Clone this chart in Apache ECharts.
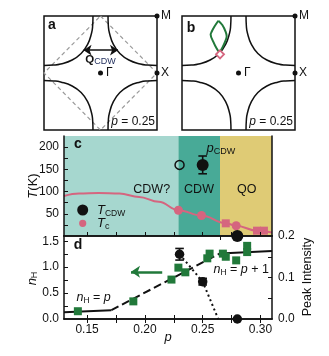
<!DOCTYPE html>
<html>
<head>
<meta charset="utf-8">
<script src="https://cdn.jsdelivr.net/npm/echarts@6/dist/echarts.min.js"></script>
<style>
html,body{margin:0;padding:0;background:#fff;}
#chart{width:329px;height:356px;}
</style>
</head>
<body>
<div id="chart"></div>
<script>
// ---------- Fermi-surface sketches (momentum in units of pi) ----------
// one quarter of the Fermi surface, offsets measured from a zone corner (M)
const fsArc = [[0.867,0],[0.861,0.17],[0.843,0.294],[0.772,0.498],[0.657,0.657],[0.498,0.772],[0.294,0.843],[0.17,0.861],[0,0.867]];
const zoneCorners = [[-1,1],[1,1],[1,-1],[-1,-1]];
const afmZone = [[0,1],[1,0],[0,-1],[-1,0],[0,1]];
const qCdw = [[-0.30,0.40],[0.31,0.40]];
const symPoints = [[0,0],[1,0],[1,1]];            // Gamma, X, M
const pocketLeft = [[-0.357,0.917],[-0.428,0.811],[-0.475,0.723],[-0.493,0.676],[-0.445,0.546],[-0.386,0.428],[-0.339,0.357]];
const pocketRight = [[-0.357,0.917],[-0.286,0.841],[-0.227,0.723],[-0.209,0.646],[-0.239,0.546],[-0.286,0.445],[-0.339,0.357]];
const hotSpot = [[-0.327,0.327]];

// ---------- phase diagram (panel c) ----------
const pRange = [0.13, 0.31];
const pBands = [0.13, 0.229, 0.265, 0.31];
const bandNames = ['CDW?', 'CDW', 'QO'];
const pCdw = 0.265;
const tcCurve = [[0.13,90],[0.143,95.5],[0.16,97],[0.178,95.5],[0.195,88],[0.212,77],[0.229,58],[0.249,46],[0.27,28.5],[0.279,23],[0.297,12],[0.31,8]];
const tcCircles = [[0.229,58],[0.249,46],[0.279,23]];
const tcSquares = [[0.27,28.5],[0.297,12],[0.303,12]];
const tCdwOpen = [[0.23,160]];
const tCdwFilled = [[0.25,160,20]];   // p, T, error
const tCdwNone = [[0.28,0]];
const tTicks = [25,50,75,100,125,150,175,200];
const tLabels = [50,100,150,200];

// ---------- Hall number and CDW peak intensity (panel d) ----------
const pTicks = [0.15,0.175,0.2,0.225,0.25,0.275,0.3];
const pLabels = [0.15,0.2,0.25,0.3];
const nH = [[0.142,0.15],[0.19,0.34],[0.223,0.76],[0.229,0.99],[0.235,0.90],[0.254,1.17],[0.256,1.26],[0.2675,1.26],[0.27,1.20],[0.279,1.13],[0.2885,1.41],[0.2885,1.29]];
const nhLow = [[0.13,0.13],[0.171,0.171]];
const nhCross = [[0.171,0.171],[0.265,1.265]];
const nhHigh = [[0.265,1.265],[0.31,1.31]];
const nhArrow = [[0.188,0.91],[0.215,0.91]];
const nhTicks = [0.25,0.5,0.75,1,1.25,1.5];
const nhLabels = [0,0.5,1,1.5];
const peak = [[0.23,0.156,0.014],[0.25,0.09,0.008],[0.28,0,0]];  // p, intensity, error
const peakTrend = [[0.23,0.156],[0.25,0.09],[0.2635,0]];
const peakTicks = [0.05,0.1,0.15];
const peakLabels = [0,0.1,0.2];

// ---------- styling ----------
const INK = '#111';
const FAM = '"Liberation Sans", Arial, Helvetica, sans-serif';
const PINK = '#d5657f';
const GREEN = '#21793a';
const BAND_COLORS = ['#a6d7cf', '#48aa97', '#dfcb75'];
const font = (size, style) => (style ? style + ' ' : '') + size + 'px ' + FAM;

const measure = document.createElement('canvas').getContext('2d');
function widthOf(str, f) { measure.font = f; return measure.measureText(str).width; }

// text made of runs (italic symbols, subscripts) laid out left to right
function runs(x, y, parts, align, rotation) {
  const ws = parts.map(p => widthOf(p.t, p.font));
  const total = ws.reduce((a, b) => a + b, 0);
  let cx = align === 'center' ? -total / 2 : align === 'right' ? -total : 0;
  const children = parts.map((p, i) => {
    const el = { type: 'text', x: cx, y: p.dy || 0, z: 100,
      style: { text: p.t, font: p.font, fill: p.fill || INK, align: 'left', verticalAlign: 'middle' } };
    cx += ws[i];
    return el;
  });
  return { type: 'group', x: x, y: y, rotation: rotation || 0, children: children, silent: true, z: 100 };
}

function arcsFor(gi) {
  return zoneCorners.map(c => ({
    type: 'line', xAxisIndex: gi, yAxisIndex: gi, smooth: 0.5, showSymbol: false, clip: false,
    lineStyle: { color: INK, width: 1.5 }, silent: true,
    data: fsArc.map(d => [c[0] - Math.sign(c[0]) * d[0], c[1] - Math.sign(c[1]) * d[1]])
  }));
}

function errorBars(params, api) {
  const x = api.value(0), y = api.value(1), e = api.value(2);
  if (!e) return null;
  const top = api.coord([x, y + e]), bot = api.coord([x, y - e]);
  const hw = 4.3, st = { stroke: INK, lineWidth: 1.6 };
  return { type: 'group', children: [
    { type: 'line', shape: { x1: top[0], y1: top[1], x2: bot[0], y2: bot[1] }, style: st },
    { type: 'line', shape: { x1: top[0] - hw, y1: top[1], x2: top[0] + hw, y2: top[1] }, style: st },
    { type: 'line', shape: { x1: bot[0] - hw, y1: bot[1], x2: bot[0] + hw, y2: bot[1] }, style: st }
  ] };
}

const frame = { show: true, lineStyle: { color: INK, width: 1.5 } };
const noSplit = { show: false };
const tickIn = vals => ({ show: true, inside: true, length: 4, lineStyle: { color: INK, width: 1 }, customValues: vals });
const lbl = (vals, digits, margin) => ({ show: true, customValues: vals, margin: margin, color: INK, fontFamily: FAM, fontSize: 12,
  formatter: v => Number(v).toFixed(digits) });
const hidden = { show: false };
const solid = c => ({ color: c, opacity: 1 });

const pAxis = (gi, pos, ticks, labels) => ({
  gridIndex: gi, type: 'value', min: pRange[0], max: pRange[1], position: pos, z: 5,
  axisLine: frame, axisTick: ticks ? tickIn(ticks) : hidden,
  axisLabel: labels ? lbl(labels, 2, 5) : hidden, splitLine: noSplit
});

const option = {
  animation: false,
  backgroundColor: '#fff',
  grid: [
    { left: 44, top: 16, width: 113, height: 114, show: true, borderColor: INK, borderWidth: 1.5, backgroundColor: 'transparent' },
    { left: 182, top: 16, width: 113, height: 114, show: true, borderColor: INK, borderWidth: 1.5, backgroundColor: 'transparent' },
    { left: 64, top: 136, width: 208, height: 100 },
    { left: 64, top: 236, width: 208, height: 83 }
  ],
  xAxis: [
    { gridIndex: 0, type: 'value', min: -1, max: 1, show: false },
    { gridIndex: 1, type: 'value', min: -1, max: 1, show: false },
    pAxis(2, 'bottom', pTicks, null),
    Object.assign(pAxis(2, 'top', null, null), { axisTick: tickIn([pCdw]) }),
    pAxis(3, 'bottom', pTicks, pLabels),
    pAxis(3, 'top', pTicks, null)
  ],
  yAxis: [
    { gridIndex: 0, type: 'value', min: -1, max: 1, show: false },
    { gridIndex: 1, type: 'value', min: -1, max: 1, show: false },
    { gridIndex: 2, type: 'value', min: 0, max: 225, position: 'left', z: 5, axisLine: frame,
      axisTick: tickIn(tTicks), axisLabel: lbl(tLabels, 0, 5), splitLine: noSplit },
    { gridIndex: 2, type: 'value', min: 0, max: 225, position: 'right', z: 5, axisLine: frame,
      axisTick: hidden, axisLabel: hidden, splitLine: noSplit },
    { gridIndex: 3, type: 'value', min: 0, max: 1.6, position: 'left', z: 5, axisLine: frame,
      axisTick: tickIn(nhTicks), axisLabel: lbl(nhLabels, 1, 5), splitLine: noSplit },
    { gridIndex: 3, type: 'value', min: 0, max: 0.2, position: 'right', z: 5, axisLine: frame,
      axisTick: tickIn(peakTicks), axisLabel: lbl(peakLabels, 1, 6), splitLine: noSplit }
  ],
  series: [
    // panel a
    ...arcsFor(0),
    { type: 'line', xAxisIndex: 0, yAxisIndex: 0, data: afmZone, showSymbol: false, clip: false, silent: true, z: 1,
      lineStyle: { color: '#9a9a9a', width: 1.2, type: [4, 3] } },
    { type: 'line', xAxisIndex: 0, yAxisIndex: 0, data: [], silent: true,
      markLine: { silent: true, symbol: ['arrow', 'arrow'], symbolSize: 8, label: { show: false },
        lineStyle: { color: INK, width: 1.5, type: 'solid' },
        data: [[{ coord: qCdw[0] }, { coord: qCdw[1] }]] } },
    { type: 'scatter', xAxisIndex: 0, yAxisIndex: 0, data: symPoints, symbolSize: 5, clip: false, silent: true,
      itemStyle: solid(INK), z: 4 },
    // panel b
    ...arcsFor(1),
    { type: 'line', xAxisIndex: 1, yAxisIndex: 1, data: pocketLeft, smooth: 0.35, showSymbol: false, silent: true,
      lineStyle: { color: GREEN, width: 2 } },
    { type: 'line', xAxisIndex: 1, yAxisIndex: 1, data: pocketRight, smooth: 0.35, showSymbol: false, silent: true,
      lineStyle: { color: GREEN, width: 2 } },
    { type: 'scatter', xAxisIndex: 1, yAxisIndex: 1, data: hotSpot, symbol: 'diamond', symbolSize: 8, silent: true, z: 4,
      itemStyle: { color: '#fff', opacity: 1, borderColor: PINK, borderWidth: 1.8 } },
    { type: 'scatter', xAxisIndex: 1, yAxisIndex: 1, data: symPoints, symbolSize: 5, clip: false, silent: true,
      itemStyle: solid(INK), z: 4 },
    // panel c: regimes
    { type: 'line', xAxisIndex: 2, yAxisIndex: 2, data: [], z: 1, silent: true,
      markArea: { silent: true,
        data: bandNames.map((n, i) => [{ xAxis: pBands[i], itemStyle: { color: BAND_COLORS[i], opacity: 1 } }, { xAxis: pBands[i + 1] }]) } },
    { type: 'line', xAxisIndex: 2, yAxisIndex: 2, data: tcCurve, smooth: 0.4, smoothMonotone: 'x', showSymbol: false, silent: true, z: 3,
      lineStyle: { color: PINK, width: 2 } },
    { type: 'scatter', xAxisIndex: 2, yAxisIndex: 2, data: tcCircles, symbolSize: 9, silent: true, z: 4,
      itemStyle: solid(PINK) },
    { type: 'scatter', xAxisIndex: 2, yAxisIndex: 2, data: tcSquares, symbol: 'rect', symbolSize: 8, clip: false, silent: true, z: 4,
      itemStyle: solid(PINK) },
    { type: 'scatter', xAxisIndex: 2, yAxisIndex: 2, data: tCdwOpen, symbolSize: 9, silent: true, z: 4,
      itemStyle: { color: 'transparent', opacity: 1, borderColor: INK, borderWidth: 1.5 } },
    { type: 'custom', xAxisIndex: 2, yAxisIndex: 2, data: tCdwFilled, renderItem: errorBars, silent: true, z: 4,
      encode: { x: 0, y: 1 } },
    { type: 'scatter', xAxisIndex: 2, yAxisIndex: 2, data: tCdwFilled, symbolSize: 12, silent: true, z: 5,
      itemStyle: solid(INK) },
    { type: 'scatter', xAxisIndex: 2, yAxisIndex: 2, data: tCdwNone, symbolSize: 12, clip: false, silent: true, z: 10,
      itemStyle: solid(INK) },
    // panel d: Hall number
    { type: 'line', xAxisIndex: 4, yAxisIndex: 4, data: nhLow, showSymbol: false, silent: true, z: 2,
      lineStyle: { color: INK, width: 2 } },
    { type: 'line', xAxisIndex: 4, yAxisIndex: 4, data: nhCross, showSymbol: false, silent: true, z: 2,
      lineStyle: { color: INK, width: 2, type: [8, 4] } },
    { type: 'line', xAxisIndex: 4, yAxisIndex: 4, data: nhHigh, showSymbol: false, silent: true, z: 2,
      lineStyle: { color: INK, width: 2 } },
    { type: 'scatter', xAxisIndex: 4, yAxisIndex: 4, data: nH, symbol: 'rect', symbolSize: 8, silent: true, z: 3,
      itemStyle: solid(GREEN),
      markLine: { silent: true, symbol: ['arrow', 'none'], symbolSize: 9, label: { show: false },
        lineStyle: { color: GREEN, width: 2.5, type: 'solid', opacity: 1 },
        data: [[{ coord: nhArrow[0] }, { coord: nhArrow[1] }]] } },
    // panel d: CDW peak intensity
    { type: 'line', xAxisIndex: 4, yAxisIndex: 5, data: peakTrend, showSymbol: false, silent: true, z: 2,
      lineStyle: { color: INK, width: 2, type: [2, 3] } },
    { type: 'custom', xAxisIndex: 4, yAxisIndex: 5, data: peak, renderItem: errorBars, silent: true, z: 4,
      encode: { x: 0, y: 1 } },
    { type: 'scatter', xAxisIndex: 4, yAxisIndex: 5, data: peak, symbolSize: 9.5, clip: false, silent: true, z: 10,
      itemStyle: solid(INK) }
  ],
  graphic: { elements: [
    // panel letters
    runs(52, 25, [{ t: 'a', font: font(14, 'bold') }], 'center'),
    runs(191, 28, [{ t: 'b', font: font(14, 'bold') }], 'center'),
    runs(78, 144, [{ t: 'c', font: font(14, 'bold') }], 'center'),
    runs(78, 245, [{ t: 'd', font: font(14, 'bold') }], 'center'),
    // panel a labels
    runs(161, 16, [{ t: 'M', font: font(12) }], 'left'),
    runs(161, 73, [{ t: 'X', font: font(12) }], 'left'),
    runs(106, 73, [{ t: 'Γ', font: font(12) }], 'left'),
    runs(100.5, 59.5, [{ t: 'Q', font: font(11.5, 'bold') }, { t: 'CDW', font: font(9), dy: 2.5, fill: '#1d2b5a' }], 'center'),
    runs(155, 121.5, [{ t: 'p', font: font(12, 'italic') }, { t: ' = 0.25', font: font(12) }], 'right'),
    // panel b labels
    runs(299, 16, [{ t: 'M', font: font(12) }], 'left'),
    runs(299, 73, [{ t: 'X', font: font(12) }], 'left'),
    runs(244, 73, [{ t: 'Γ', font: font(12) }], 'left'),
    runs(293, 121.5, [{ t: 'p', font: font(12, 'italic') }, { t: ' = 0.25', font: font(12) }], 'right'),
    // panel c labels
    runs(206.5, 148.5, [{ t: 'p', font: font(13, 'italic') }, { t: 'CDW', font: font(9), dy: 3 }], 'left'),
    runs(151.7, 189.5, [{ t: bandNames[0], font: font(12.5) }], 'center'),
    runs(199, 189.5, [{ t: bandNames[1], font: font(12.5) }], 'center'),
    runs(246.7, 189.5, [{ t: bandNames[2], font: font(12.5) }], 'center'),
    { type: 'circle', shape: { cx: 82.7, cy: 210, r: 5.5 }, style: { fill: INK }, z: 100, silent: true },
    { type: 'circle', shape: { cx: 82.7, cy: 223.3, r: 3.6 }, style: { fill: PINK }, z: 100, silent: true },
    runs(97, 210, [{ t: 'T', font: font(13, 'italic') }, { t: 'CDW', font: font(8.5), dy: 4 }], 'left'),
    runs(97, 223, [{ t: 'T', font: font(13, 'italic') }, { t: 'c', font: font(9), dy: 3.5 }], 'left'),
    // panel d labels
    runs(76.5, 297.5, [{ t: 'n', font: font(12.5, 'italic') }, { t: 'H', font: font(8.5), dy: 3 },
      { t: ' = ', font: font(12.5) }, { t: 'p', font: font(12.5, 'italic') }], 'left'),
    runs(213.5, 270, [{ t: 'n', font: font(12.5, 'italic') }, { t: 'H', font: font(8.5), dy: 3 },
      { t: ' = ', font: font(12.5) }, { t: 'p', font: font(12.5, 'italic') }, { t: ' + 1', font: font(12.5) }], 'left'),
    // axis titles
    runs(33, 186, [{ t: 'T', font: font(13, 'italic') }, { t: '(K)', font: font(13) }], 'center', Math.PI / 2),
    runs(32, 278.5, [{ t: 'n', font: font(13, 'italic') }, { t: 'H', font: font(9), dy: 3 }], 'center', Math.PI / 2),
    runs(308, 277, [{ t: 'Peak Intensity', font: font(12.5) }], 'center', Math.PI / 2),
    runs(168, 337, [{ t: 'p', font: font(13, 'italic') }], 'center')
  ] }
};

const chart = echarts.init(document.getElementById('chart'), null, { renderer: 'canvas' });
chart.setOption(option);
</script>
</body>
</html>
